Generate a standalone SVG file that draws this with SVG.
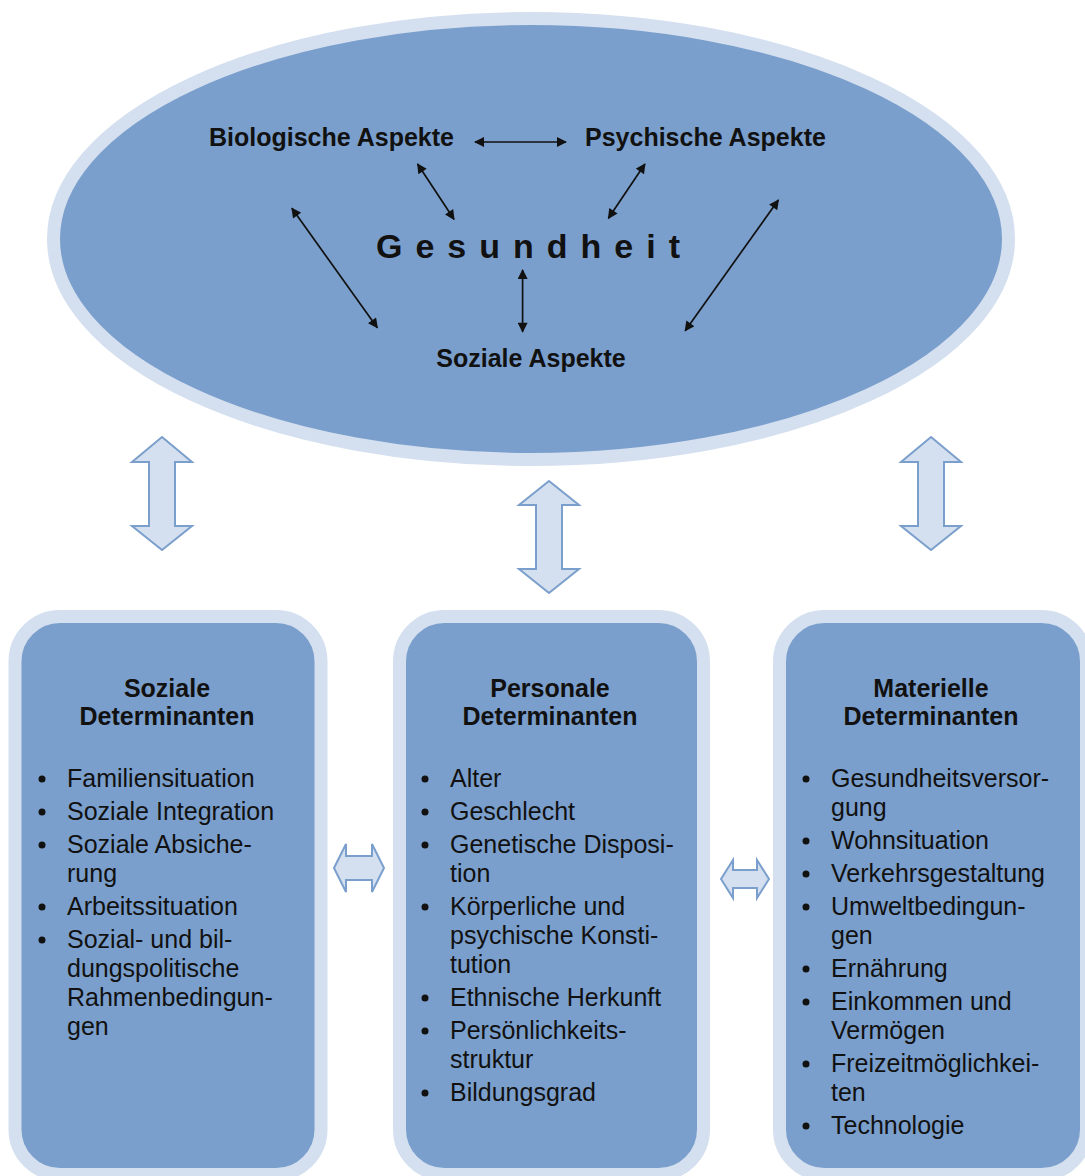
<svg xmlns="http://www.w3.org/2000/svg" width="1085" height="1176" viewBox="0 0 1085 1176">
<style>
.shape{fill:#7b9fcc;stroke:#d4e0ef;stroke-width:13}
.lbl{font-family:"Liberation Sans",Arial,sans-serif;font-weight:bold;font-size:25px;fill:#111}
.body{font-family:"Liberation Sans",Arial,sans-serif;font-size:25px;fill:#111}
.ttl{font-family:"Liberation Sans",Arial,sans-serif;font-weight:bold;font-size:25px;fill:#111;text-anchor:middle}
.thin{stroke:#111;stroke-width:1.7;fill:none;marker-start:url(#ah);marker-end:url(#ah)}
.block{fill:#d4e0ef;stroke:#7b9fcc;stroke-width:2;stroke-linejoin:miter}
.dot{fill:#111}
</style>
<defs>
<marker id="ah" viewBox="0 0 10 10" refX="9" refY="5" markerWidth="11" markerHeight="10" markerUnits="userSpaceOnUse" orient="auto-start-reverse">
<path d="M0,0 L10,5 L0,10 z" fill="#111"/>
</marker>
</defs>

<g id="gesundheit">
<ellipse class="shape" cx="531" cy="239" rx="477.5" ry="220.5"/>
<text x="376" y="258" style="font-family:'Liberation Sans',Arial,sans-serif;font-weight:bold;font-size:34px;letter-spacing:13px;fill:#111">Gesundheit</text>
</g>
<g id="biologische">
<text class="lbl" x="209" y="146">Biologische Aspekte</text>
</g>
<g id="psychische">
<text class="lbl" x="585" y="146">Psychische Aspekte</text>
</g>
<g id="soziale-aspekte">
<text class="lbl" x="531" y="367" text-anchor="middle">Soziale Aspekte</text>
</g>

<g id="soziale-determinanten">
<rect class="shape" x="15" y="616.5" width="306" height="558" rx="45"/>
<text class="ttl" x="167" y="697">Soziale</text>
<text class="ttl" x="167" y="725">Determinanten</text>
<g class="dot">
<circle cx="42" cy="779" r="3.5"/><circle cx="42" cy="812" r="3.5"/><circle cx="42" cy="845" r="3.5"/><circle cx="42" cy="907" r="3.5"/><circle cx="42" cy="940" r="3.5"/>
</g>
<text class="body" x="67" y="787">Familiensituation</text>
<text class="body" x="67" y="820">Soziale Integration</text>
<text class="body" x="67" y="853">Soziale Absiche-</text>
<text class="body" x="67" y="882">rung</text>
<text class="body" x="67" y="915">Arbeitssituation</text>
<text class="body" x="67" y="948">Sozial- und bil-</text>
<text class="body" x="67" y="977">dungspolitische</text>
<text class="body" x="67" y="1006">Rahmenbedingun-</text>
<text class="body" x="67" y="1035">gen</text>
</g>

<g id="personale-determinanten">
<rect class="shape" x="399.5" y="616.5" width="304" height="558" rx="45"/>
<text class="ttl" x="550" y="697">Personale</text>
<text class="ttl" x="550" y="725">Determinanten</text>
<g class="dot">
<circle cx="425" cy="779" r="3.5"/><circle cx="425" cy="812" r="3.5"/><circle cx="425" cy="845" r="3.5"/><circle cx="425" cy="907" r="3.5"/><circle cx="425" cy="998" r="3.5"/><circle cx="425" cy="1031" r="3.5"/><circle cx="425" cy="1093" r="3.5"/>
</g>
<text class="body" x="450" y="787">Alter</text>
<text class="body" x="450" y="820">Geschlecht</text>
<text class="body" x="450" y="853">Genetische Disposi-</text>
<text class="body" x="450" y="882">tion</text>
<text class="body" x="450" y="915">Körperliche und</text>
<text class="body" x="450" y="944">psychische Konsti-</text>
<text class="body" x="450" y="973">tution</text>
<text class="body" x="450" y="1006">Ethnische Herkunft</text>
<text class="body" x="450" y="1039">Persönlichkeits-</text>
<text class="body" x="450" y="1068">struktur</text>
<text class="body" x="450" y="1101">Bildungsgrad</text>
</g>

<g id="materielle-determinanten">
<rect class="shape" x="779.5" y="616.5" width="307" height="558" rx="45"/>
<text class="ttl" x="931" y="697">Materielle</text>
<text class="ttl" x="931" y="725">Determinanten</text>
<g class="dot">
<circle cx="806" cy="779" r="3.5"/><circle cx="806" cy="841" r="3.5"/><circle cx="806" cy="874" r="3.5"/><circle cx="806" cy="907" r="3.5"/><circle cx="806" cy="969" r="3.5"/><circle cx="806" cy="1002" r="3.5"/><circle cx="806" cy="1064" r="3.5"/><circle cx="806" cy="1126" r="3.5"/>
</g>
<text class="body" x="831" y="787">Gesundheitsversor-</text>
<text class="body" x="831" y="816">gung</text>
<text class="body" x="831" y="849">Wohnsituation</text>
<text class="body" x="831" y="882">Verkehrsgestaltung</text>
<text class="body" x="831" y="915">Umweltbedingun-</text>
<text class="body" x="831" y="944">gen</text>
<text class="body" x="831" y="977">Ernährung</text>
<text class="body" x="831" y="1010">Einkommen und</text>
<text class="body" x="831" y="1039">Vermögen</text>
<text class="body" x="831" y="1072">Freizeitmöglichkei-</text>
<text class="body" x="831" y="1101">ten</text>
<text class="body" x="831" y="1134">Technologie</text>
</g>

<g id="connectors">
<line class="thin" x1="475" y1="142" x2="566" y2="142"/>
<line class="thin" x1="417.6" y1="164" x2="454" y2="219.3"/>
<line class="thin" x1="644.9" y1="164" x2="608.4" y2="218.3"/>
<line class="thin" x1="291.9" y1="208.3" x2="377.3" y2="327.7"/>
<line class="thin" x1="522.6" y1="270" x2="522.6" y2="331.7"/>
<line class="thin" x1="778.4" y1="200" x2="685.2" y2="330.7"/>
<polygon class="block" points="162,437 192,462 175,462 175,526 192,526 162,550 132,526 149,526 149,462 132,462"/>
<polygon class="block" points="549,481 579,505 562,505 562,569 579,569 549,593 519,569 536,569 536,505 519,505"/>
<polygon class="block" points="931,437 961,462 944,462 944,526 961,526 931,550 901,526 918,526 918,462 901,462"/>
<polygon class="block" points="334,868 346,844 346,856 372,856 372,844 384,868 372,892 372,880 346,880 346,892"/>
<polygon class="block" points="721,879 733,860 733,870 757,870 757,860 769,879 757,898 757,888 733,888 733,898"/>
</g>
</svg>
